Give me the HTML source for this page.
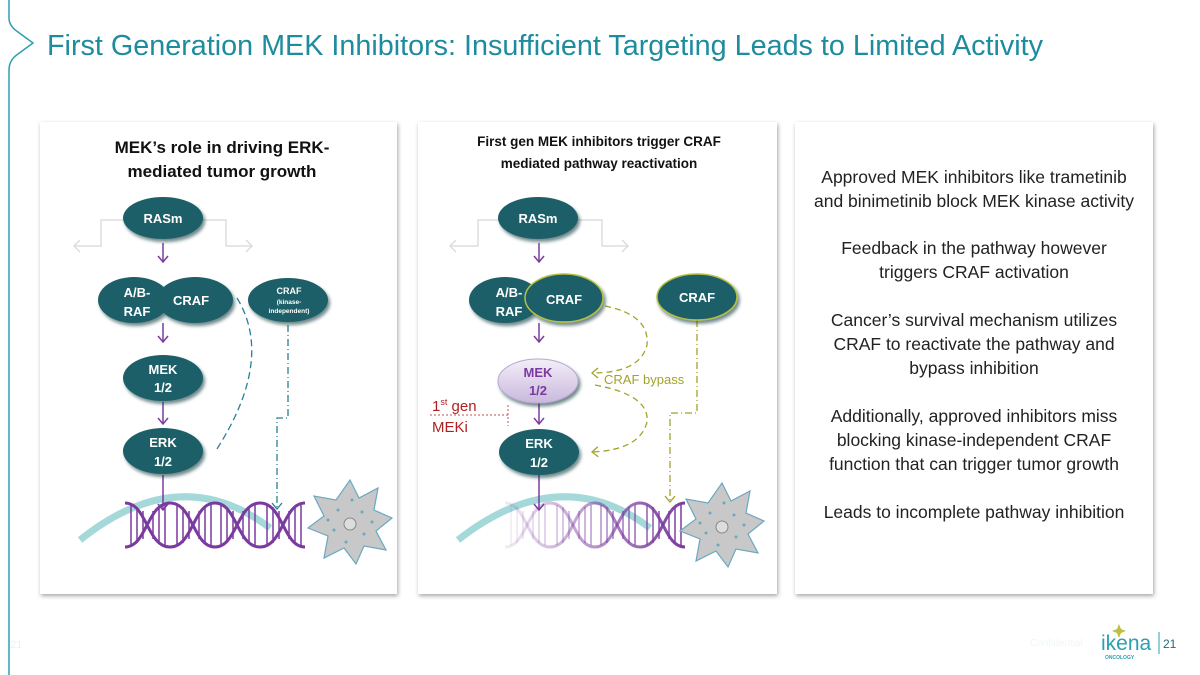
<!DOCTYPE html>
<html><head><meta charset="utf-8"><style>
html,body{margin:0;padding:0;background:#fff;width:1200px;height:675px;overflow:hidden}
svg{display:block}
text{font-family:"Liberation Sans",sans-serif}
</style></head><body>
<svg width="1200" height="675" viewBox="0 0 1200 675" xmlns="http://www.w3.org/2000/svg">
<defs>
<filter id="sh" x="-5%" y="-5%" width="110%" height="110%"><feDropShadow dx="1" dy="2" stdDeviation="2" flood-color="#000" flood-opacity="0.35"/></filter>
<filter id="esh" x="-20%" y="-20%" width="140%" height="150%"><feDropShadow dx="2" dy="3" stdDeviation="1.5" flood-color="#0b3a40" flood-opacity="0.6"/></filter>
<marker id="pa" markerWidth="10" markerHeight="12" refX="8" refY="6" orient="auto" markerUnits="userSpaceOnUse"><path d="M2,1 L8,6 L2,11" fill="none" stroke="#7a3aa0" stroke-width="1.5"/></marker>
<marker id="ga" markerWidth="12" markerHeight="14" refX="8" refY="7" orient="auto" markerUnits="userSpaceOnUse"><path d="M2,1 L8,7 L2,13" fill="none" stroke="#ddd" stroke-width="1.5"/></marker>
<marker id="ta" markerWidth="10" markerHeight="12" refX="8" refY="6" orient="auto" markerUnits="userSpaceOnUse"><path d="M2,1 L8,6 L2,11" fill="none" stroke="#2a7f93" stroke-width="1.3"/></marker>
<marker id="oa" markerWidth="10" markerHeight="12" refX="8" refY="6" orient="auto" markerUnits="userSpaceOnUse"><path d="M2,1 L8,6 L2,11" fill="none" stroke="#a3a32a" stroke-width="1.3"/></marker>
<linearGradient id="mekg" x1="0" y1="0" x2="0" y2="1"><stop offset="0" stop-color="#f3eef8"/><stop offset="1" stop-color="#c9b8dc"/></linearGradient>
<linearGradient id="fade" x1="0" y1="0" x2="1" y2="0"><stop offset="0" stop-color="#7a3aa0" stop-opacity="0.1"/><stop offset="1" stop-color="#7a3aa0" stop-opacity="1"/></linearGradient>
<g id="cell"><path d="M0,-42 L9,-24 L28,-34 L24,-12 L42,-4 L26,9 L36,28 L14,24 L6,42 L-6,26 L-26,36 L-22,14 L-42,6 L-26,-6 L-36,-26 L-14,-22 Z" fill="#c8c8c8" stroke="#6aa8c0" stroke-width="1.2"/><circle cx="0" cy="2" r="6" fill="#ddd" stroke="#888"/><g fill="#6aa8c0"><circle cx="-12" cy="-12" r="1.5"/><circle cx="12" cy="-10" r="1.5"/><circle cx="-16" cy="8" r="1.5"/><circle cx="14" cy="12" r="1.5"/><circle cx="2" cy="-22" r="1.5"/><circle cx="-4" cy="20" r="1.5"/><circle cx="22" cy="0" r="1.5"/><circle cx="-22" cy="-2" r="1.5"/></g></g>
<g id="dna" fill="none" stroke-width="3"><path d="M0,0 C22,0 22,44 45,44 C68,44 68,0 90,0 C112,0 112,44 135,44 C158,44 158,0 180,0"/><path d="M0,44 C22,44 22,0 45,0 C68,0 68,44 90,44 C112,44 112,0 135,0 C158,0 158,44 180,44"/><g stroke-width="1.5"><path d="M6,2v40M12,4v36M18,8v28M28,8v28M34,4v36M40,2v40M52,2v40M58,4v36M64,8v28M74,8v28M80,4v36M86,2v40M96,2v40M102,4v36M108,8v28M118,8v28M124,4v36M130,2v40M142,2v40M148,4v36M154,8v28M164,8v28M170,4v36M176,2v40"/></g></g>
</defs>
<path d="M9,0 L9,18 Q9,26 18,32 L33,43 L18,54 Q9,60 9,70 L9,675" fill="none" stroke="#2aa0b0" stroke-width="1.5"/>
<text x="47" y="55" font-size="29" fill="#1d8c9e" textLength="996" lengthAdjust="spacingAndGlyphs">First Generation MEK Inhibitors: Insufficient Targeting Leads to Limited Activity</text>
<rect x="40" y="122" width="357" height="472" fill="#fff" filter="url(#sh)"/>
<rect x="418" y="122" width="359" height="472" fill="#fff" filter="url(#sh)"/>
<rect x="795" y="122" width="358" height="472" fill="#fff" filter="url(#sh)"/>

<!-- PANEL 1 -->
<g font-weight="bold" fill="#111" text-anchor="middle">
<text x="222" y="153" font-size="17">MEK’s role in driving ERK-</text>
<text x="222" y="177" font-size="17">mediated tumor growth</text>
</g>
<path d="M80,540 Q180,460 270,528" fill="none" stroke="#8fd0d0" stroke-width="7" opacity="0.8"/>
<use href="#dna" x="125" y="503" stroke="#7a3aa0"/>
<use href="#cell" x="350" y="522"/>
<path d="M123,220 L101,220 L101,246 L74,246" fill="none" stroke="#ddd" stroke-width="1.5" marker-end="url(#ga)"/>
<path d="M203,220 L226,220 L226,246 L252,246" fill="none" stroke="#ddd" stroke-width="1.5" marker-end="url(#ga)"/>
<path d="M163,243 V262" stroke="#7a3aa0" stroke-width="1.5" marker-end="url(#pa)"/>
<path d="M163,323 V342" stroke="#7a3aa0" stroke-width="1.5" marker-end="url(#pa)"/>
<path d="M163,402 V424" stroke="#7a3aa0" stroke-width="1.5" marker-end="url(#pa)"/>
<path d="M163,475 V510" stroke="#7a3aa0" stroke-width="1.5" marker-end="url(#pa)"/>
<path d="M237,298 Q275,360 215,452" fill="none" stroke="#2a7f93" stroke-width="1.3" stroke-dasharray="7,4"/>
<path d="M288,325 V418 H277 V509" fill="none" stroke="#2a7f93" stroke-width="1.3" stroke-dasharray="7,3,1,3" marker-end="url(#ta)"/>
<g fill="#1d5f67" filter="url(#esh)">
<ellipse cx="163" cy="218" rx="40" ry="21"/>
<ellipse cx="134" cy="300" rx="36" ry="23"/>
<ellipse cx="195" cy="300" rx="38" ry="23"/>
<ellipse cx="288" cy="300" rx="40" ry="22"/>
<ellipse cx="163" cy="378" rx="40" ry="23"/>
<ellipse cx="163" cy="451" rx="40" ry="23"/>
</g>
<g fill="#fff" font-weight="bold" text-anchor="middle" font-size="13">
<text x="163" y="223">RASm</text>
<text x="137" y="297">A/B-</text><text x="137" y="316">RAF</text>
<text x="191" y="305">CRAF</text>
<text x="289" y="294" font-size="9">CRAF</text>
<text x="289" y="304" font-size="6.5">(kinase-</text>
<text x="289" y="313" font-size="6.5">independent)</text>
<text x="163" y="374">MEK</text><text x="163" y="392">1/2</text>
<text x="163" y="447">ERK</text><text x="163" y="466">1/2</text>
</g>

<!-- PANEL 2 -->
<g font-weight="bold" fill="#111" text-anchor="middle" font-size="13.5">
<text x="599" y="146">First gen MEK inhibitors trigger CRAF</text>
<text x="599" y="168">mediated pathway reactivation</text>
</g>
<path d="M458,540 Q560,460 650,528" fill="none" stroke="#8fd0d0" stroke-width="7" opacity="0.8"/>
<use href="#dna" x="505" y="503" stroke="url(#fade)"/>
<use href="#cell" x="722" y="525"/>
<path d="M498,220 L478,220 L478,246 L450,246" fill="none" stroke="#ddd" stroke-width="1.5" marker-end="url(#ga)"/>
<path d="M578,220 L602,220 L602,246 L628,246" fill="none" stroke="#ddd" stroke-width="1.5" marker-end="url(#ga)"/>
<path d="M539,243 V262" stroke="#7a3aa0" stroke-width="1.5" marker-end="url(#pa)"/>
<path d="M539,323 V342" stroke="#7a3aa0" stroke-width="1.5" marker-end="url(#pa)"/>
<path d="M539,403 V424" stroke="#7a3aa0" stroke-width="1.5" marker-end="url(#pa)"/>
<path d="M539,475 V510" stroke="#7a3aa0" stroke-width="1.5" marker-end="url(#pa)"/>
<path d="M430,415 H508 M508,405 V426" fill="none" stroke="#c05050" stroke-width="1" stroke-dasharray="2,2"/>
<text x="432" y="411" font-size="15" fill="#b02020">1<tspan font-size="9" dy="-6">st</tspan><tspan dy="6"> gen</tspan></text>
<text x="432" y="432" font-size="15" fill="#b02020">MEKi</text>
<path d="M605,306 Q650,315 647,345 Q640,373 592,373" fill="none" stroke="#a3a32a" stroke-width="1.3" stroke-dasharray="6,4" marker-end="url(#oa)"/>
<path d="M595,385 Q650,395 647,422 Q640,450 592,452" fill="none" stroke="#a3a32a" stroke-width="1.3" stroke-dasharray="6,4" marker-end="url(#oa)"/>
<text x="604" y="384" font-size="13" fill="#a3a32a">CRAF bypass</text>
<path d="M697,320 V413 H670 V502" fill="none" stroke="#a3a32a" stroke-width="1.3" stroke-dasharray="7,3,1,3" marker-end="url(#oa)"/>
<g filter="url(#esh)">
<ellipse cx="538" cy="218" rx="40" ry="21" fill="#1d5f67"/>
<ellipse cx="505" cy="300" rx="36" ry="23" fill="#1d5f67"/>
<ellipse cx="564" cy="298" rx="39" ry="24" fill="#1d5f67" stroke="#b8c040" stroke-width="1.5"/>
<ellipse cx="697" cy="297" rx="40" ry="23" fill="#1d5f67" stroke="#b8c040" stroke-width="1.5"/>
<ellipse cx="538" cy="381" rx="40" ry="22" fill="url(#mekg)" stroke="#b8a8d0"/>
<ellipse cx="539" cy="452" rx="40" ry="23" fill="#1d5f67"/>
</g>
<g fill="#fff" font-weight="bold" text-anchor="middle" font-size="13">
<text x="538" y="223">RASm</text>
<text x="509" y="297">A/B-</text><text x="509" y="316">RAF</text>
<text x="564" y="304">CRAF</text>
<text x="697" y="302">CRAF</text>
<text x="538" y="377" fill="#7a3aa0">MEK</text><text x="538" y="395" fill="#7a3aa0">1/2</text>
<text x="539" y="448">ERK</text><text x="539" y="467">1/2</text>
</g>

<!-- PANEL 3 -->
<g fill="#222" font-size="17.5" text-anchor="middle">
<text x="974" y="183">Approved MEK inhibitors like trametinib</text>
<text x="974" y="207">and binimetinib block MEK kinase activity</text>
<text x="974" y="254">Feedback in the pathway however</text>
<text x="974" y="278">triggers CRAF activation</text>
<text x="974" y="326">Cancer’s survival mechanism utilizes</text>
<text x="974" y="350">CRAF to reactivate the pathway and</text>
<text x="974" y="374">bypass inhibition</text>
<text x="974" y="422">Additionally, approved inhibitors miss</text>
<text x="974" y="446">blocking kinase-independent CRAF</text>
<text x="974" y="470">function that can trigger tumor growth</text>
<text x="974" y="518">Leads to incomplete pathway inhibition</text>
</g>

<text x="10" y="648" font-size="11" fill="#e6f4f6">21</text>
<text x="1030" y="646" font-size="10" fill="#eef6f8">Confidential</text>
<path d="M1119,624 l2,5 5,2 -5,2 -2,5 -2,-5 -5,-2 5,-2z" fill="#c0c040"/>
<text x="1101" y="650" font-size="21" fill="#2aa0b0">ikena</text>
<text x="1105" y="659" font-size="5" fill="#2aa0b0" font-weight="bold">ONCOLOGY</text>
<line x1="1159" y1="632" x2="1159" y2="654" stroke="#2aa0b0"/>
<text x="1163" y="648" font-size="12" fill="#1d6a80">21</text>
</svg>
</body></html>
